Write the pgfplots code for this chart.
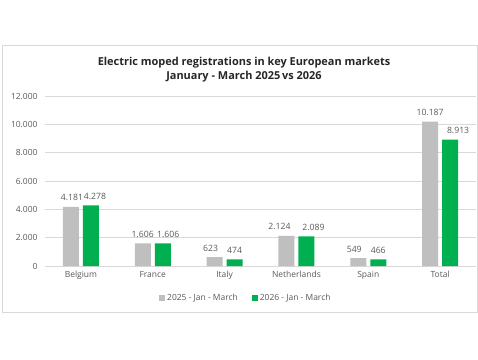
\documentclass[border=0pt]{standalone}
\usepackage{pgfplots}
\usepackage{pgfplotstable}
\pgfplotsset{compat=1.18}
\usepackage{fontspec}
\setmainfont{Open Sans}
\definecolor{grayb}{RGB}{191,191,191}
\definecolor{greenb}{RGB}{0,176,80}
\definecolor{txt}{RGB}{89,89,89}
\definecolor{gridc}{RGB}{217,217,217}
\pgfplotstableread{
x y dx
0 4181 1
1 1606 0
2 623 -4
3 2124 -7
4 549 -4
5 10187 0
}\tableA
\pgfplotstableread{
x y dx
0 4278 4
1 1606 5.5
2 474 0
3 2089 7
4 466 0
5 8913 8
}\tableB
\begin{document}
\begin{tikzpicture}[x=1bp,y=1bp]
\path[use as bounding box] (0,0) rectangle (478,359);
\draw[color=gridc, line width=0.8bp] (2.5,47) rectangle (477.5,314);
\node[font=\fontsize{11}{12}\selectfont\bfseries, text=black!85] at (244,296) {Electric moped registrations in key European markets};
\node[font=\fontsize{11}{12}\selectfont\bfseries, text=black!85] at (244,282) {January - March 2025\,vs 2026};
\begin{axis}[
  at={(45bp,93bp)}, anchor=south west,
  width=431bp, height=170bp, scale only axis,
  ymin=0, ymax=12000, ytick={0,2000,4000,6000,8000,10000,12000},
  xmin=-0.5, xmax=5.5, xtick=data,
  xticklabels={Belgium,France,Italy,Netherlands,Spain,Total},
  axis x line*=bottom, axis y line*=left,
  x axis line style={draw=gridc, line width=0.8bp},
  y axis line style={draw=none},
  ymajorgrids, grid style={draw=gridc, line width=0.8bp},
  major tick length=0pt,
  ybar=4bp, bar width=16bp,
  /pgf/number format/.cd, 1000 sep={.}, fixed, assume math mode=true, /pgfplots/.cd,
  scaled y ticks=false,
  ticklabel style={font=\fontsize{8.5}{10}\selectfont, text=txt},
  yticklabel style={xshift=-4bp},
  xticklabel style={yshift=-2bp},
  legend style={draw=none, at={(0.466,-0.188)}, anchor=center, legend columns=2,
    font=\fontsize{8.5}{10}\selectfont, text=txt,
    /tikz/every even column/.append style={column sep=12bp}},
  legend image code/.code={\fill[#1] (0bp,-3bp) rectangle (6bp,3bp);},
  clip=false,
]
\addplot[fill=grayb, draw=none,
  visualization depends on={\thisrow{dx}\as\dxA},
  nodes near coords,
  nodes near coords style={font=\fontsize{8.7}{10}\selectfont, text=txt, yshift=2.5bp, xshift=\dxA bp}]
  table[x=x, y=y] {\tableA};
\addplot[fill=greenb, draw=none,
  visualization depends on={\thisrow{dx}\as\dxB},
  nodes near coords,
  nodes near coords style={font=\fontsize{8.7}{10}\selectfont, text=txt, yshift=2.5bp, xshift=\dxB bp}]
  table[x=x, y=y] {\tableB};
\legend{2025 - Jan - March, 2026 - Jan - March}
\end{axis}
\end{tikzpicture}
\end{document}
